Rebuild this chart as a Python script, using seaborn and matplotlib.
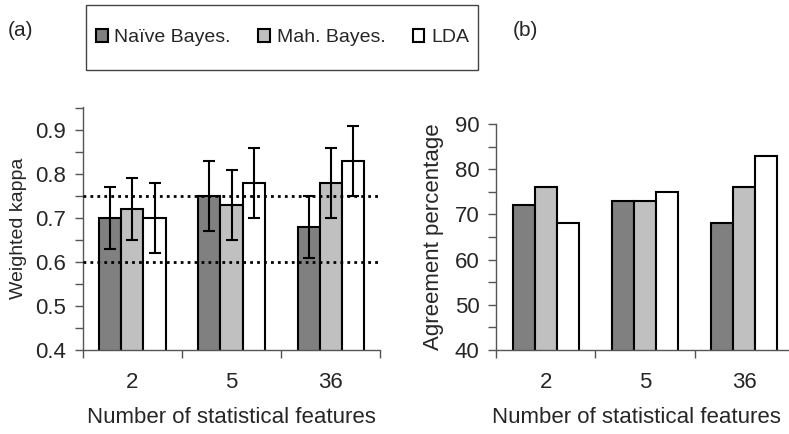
import matplotlib
matplotlib.use("Agg")
import matplotlib.pyplot as plt
import pandas as pd
import seaborn as sns
from matplotlib.patches import Rectangle
from matplotlib.ticker import MultipleLocator

features = ["2", "5", "36"]
methods = ["Naïve Bayes.", "Mah. Bayes.", "LDA"]
kappa = {
    "Naïve Bayes.": [0.70, 0.75, 0.68],
    "Mah. Bayes.": [0.72, 0.73, 0.78],
    "LDA": [0.70, 0.78, 0.83],
}
kappa_err = {
    "Naïve Bayes.": [0.07, 0.08, 0.07],
    "Mah. Bayes.": [0.07, 0.08, 0.08],
    "LDA": [0.08, 0.08, 0.08],
}
agreement = {
    "Naïve Bayes.": [72, 73, 68],
    "Mah. Bayes.": [76, 73, 76],
    "LDA": [68, 75, 83],
}
ref_lines = [0.6, 0.75]

colors = ["#808080", "#c0c0c0", "#ffffff"]

rows = []
for m in methods:
    for i, f in enumerate(features):
        rows.append({"features": f, "method": m, "kappa": kappa[m][i],
                     "err": kappa_err[m][i], "agree": agreement[m][i]})
df = pd.DataFrame(rows)

sns.set_style("white")
plt.rcParams["font.family"] = ["Liberation Sans", "DejaVu Sans"]
plt.rcParams["font.size"] = 14

fig = plt.figure(figsize=(7.89, 4.34), dpi=100)
ax1 = fig.add_axes([0.105, 0.194, 0.377, 0.559])
ax2 = fig.add_axes([0.629, 0.194, 0.377, 0.520])

bar_kw = dict(x="features", hue="method", order=features, hue_order=methods,
              palette=colors, width=0.67, gap=0, edgecolor="black",
              linewidth=1.5, errorbar=None, legend=False, saturation=1)

sns.barplot(data=df, y="kappa", ax=ax1, **bar_kw)
sns.barplot(data=df, y="agree", ax=ax2, **bar_kw)

# error bars on the kappa bars
for cont, m in zip(ax1.containers, methods):
    xs = [p.get_x() + p.get_width() / 2 for p in cont.patches]
    ax1.errorbar(xs, kappa[m], yerr=kappa_err[m], fmt="none", ecolor="black",
                 elinewidth=1.5, capsize=4, capthick=1.5, zorder=5)

for y in ref_lines:
    ax1.axhline(y, color="black", linestyle=(0, (1, 1.5)), linewidth=2, zorder=4)

ax1.set_ylim(0.4, 0.952)
ax1.yaxis.set_major_locator(MultipleLocator(0.1))
ax1.yaxis.set_minor_locator(MultipleLocator(0.05))
ax1.set_ylabel("Weighted kappa", fontsize=14, labelpad=6)

ax2.set_ylim(40, 90)
ax2.yaxis.set_major_locator(MultipleLocator(10))
ax2.yaxis.set_minor_locator(MultipleLocator(5))
ax2.set_ylabel("Agreement percentage", fontsize=16, labelpad=8)

for ax in (ax1, ax2):
    ax.set_xlim(-0.5, 2.5)
    ax.set_xticks([-0.5, 0.5, 1.5, 2.5], minor=True)
    ax.tick_params(axis="x", which="major", length=0, pad=16, labelsize=16)
    ax.tick_params(axis="x", which="minor", length=6, width=1, color="#555555",
                   direction="out", bottom=True)
    ax.tick_params(axis="y", which="both", length=6, width=1, color="#555555",
                   direction="out", left=True, labelsize=16, pad=6)
    ax.set_xlabel("Number of statistical features", fontsize=16, labelpad=10)
    for s in ("top", "right"):
        ax.spines[s].set_visible(False)
    for s in ("left", "bottom"):
        ax.spines[s].set_color("#555555")
        ax.spines[s].set_linewidth(1)

ax2.xaxis.set_label_coords(0.47, -0.255)

# legend with a plain box drawn around it
handles = [c.patches[0] for c in ax2.containers]
fig.legend(handles, methods, ncol=3, loc="center",
           bbox_to_anchor=(0.358, 0.913), frameon=False, fontsize=14,
           handlelength=0.6, handleheight=0.6, handletextpad=0.35,
           columnspacing=1.4)
fig.patches.append(Rectangle((0.109, 0.839), 0.497, 0.150,
                             transform=fig.transFigure, fill=False,
                             edgecolor="#444444", linewidth=1))

fig.text(0.010, 0.930, "(a)", fontsize=15, va="center")
fig.text(0.650, 0.930, "(b)", fontsize=15, va="center")

fig.savefig("out.png", dpi=100)
